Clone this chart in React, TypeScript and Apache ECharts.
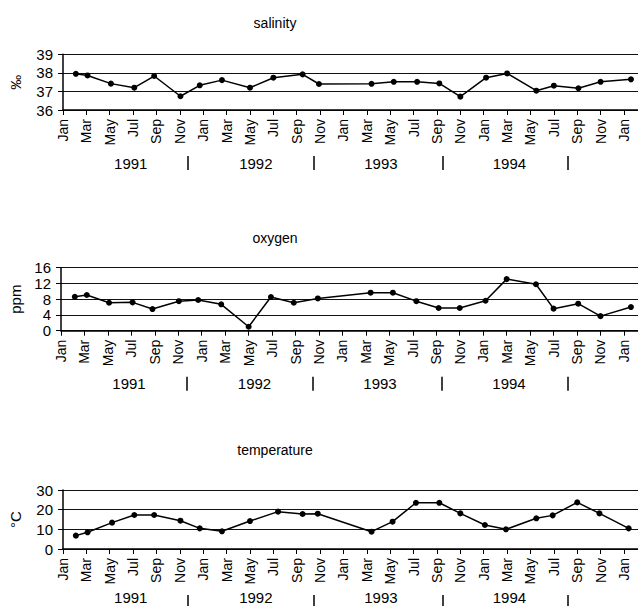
import React, { useEffect, useRef } from "react";
import * as echarts from "echarts";

// month offset from Jan 1991 (0 = Jan 1991, 48 = Jan 1995)
const monthNames = ["Jan", "Feb", "Mar", "Apr", "May", "Jun", "Jul", "Aug", "Sep", "Oct", "Nov", "Dec"];
const monthTicks = [0, 2, 4, 6, 8, 10, 12, 14, 16, 18, 20, 22, 24, 26, 28, 30, 32, 34, 36, 38, 40, 42, 44, 46, 48];
const yearLabels = ["1991", "1992", "1993", "1994"];
const yearLabelPos = [5.8, 16.5, 27.2, 38.2];
const yearSepPos = [10.7, 21.45, 32.5, 43.2];

const salinityMonths = [1.1, 2.1, 4.1, 6.1, 7.8, 10.05, 11.7, 13.6, 16.0, 18.0, 20.5, 21.9, 26.4, 28.3, 30.3, 32.2, 34.0, 36.2, 38.0, 40.5, 42.0, 44.1, 46.0, 48.6];
const salinity = [37.95, 37.86, 37.42, 37.2, 37.83, 36.74, 37.33, 37.61, 37.2, 37.74, 37.92, 37.4, 37.41, 37.52, 37.52, 37.43, 36.72, 37.74, 37.97, 37.04, 37.31, 37.17, 37.52, 37.65];

const oxygenMonths = [1.18, 2.2, 4.1, 6.1, 7.8, 10.05, 11.7, 13.66, 16.0, 17.9, 19.85, 21.9, 26.4, 28.3, 30.3, 32.2, 34.0, 36.2, 38.0, 40.5, 42.0, 44.1, 46.0, 48.6];
const oxygen = [8.6, 9.06, 7.1, 7.2, 5.5, 7.5, 7.8, 6.7, 1.0, 8.55, 7.1, 8.2, 9.65, 9.65, 7.5, 5.76, 5.76, 7.6, 13.1, 11.8, 5.6, 6.86, 3.7, 6.0];

const temperatureMonths = [1.1, 2.1, 4.2, 6.1, 7.8, 10.05, 11.7, 13.6, 16.0, 18.4, 20.5, 21.8, 26.4, 28.2, 30.2, 32.2, 34.0, 36.1, 37.9, 40.5, 41.9, 44.0, 45.9, 48.4];
const temperature = [6.8, 8.5, 13.4, 17.3, 17.3, 14.4, 10.5, 9.0, 14.2, 19.0, 17.8, 17.96, 8.8, 13.9, 23.5, 23.5, 18.1, 12.2, 10.0, 15.6, 17.1, 23.7, 18.1, 10.5];

const panelTitles = ["salinity", "oxygen", "temperature"];
const panelUnits = ["‰", "ppm", "°C"];

const FONT = "'Liberation Sans', Arial, sans-serif";

export default function App() {
  const ref = useRef<HTMLDivElement>(null);

  useEffect(() => {
    if (!ref.current) return;
    const chart = echarts.init(ref.current, undefined, { renderer: "svg" });

    const X_MIN = 0;
    const X_MAX = 49.2;
    const gridLeft = 61;
    const gridWidth = 11.84 * X_MAX;

    const grids = [
      { left: gridLeft, top: 54.3, width: gridWidth, height: 55.7 },
      { left: gridLeft, top: 267.7, width: gridWidth, height: 63 },
      { left: gridLeft, top: 490, width: gridWidth, height: 59 },
    ];
    const yCfg = [
      { min: 36, max: 39, interval: 1, nameGap: 40 },
      { min: 0, max: 16, interval: 4, nameGap: 34 },
      { min: 0, max: 30, interval: 10, nameGap: 40 },
    ];
    const titleTops = [11, 226, 438];
    const yearOffset = 46;

    const monthAxes = grids.map((_, i) => ({
      type: "value",
      gridIndex: i,
      min: X_MIN,
      max: X_MAX,
      position: "bottom",
      axisLine: { show: true, lineStyle: { color: "#000", width: 1.5 } },
      axisTick: { show: true, customValues: monthTicks, length: 5, lineStyle: { color: "#000", width: 1 } },
      axisLabel: {
        customValues: monthTicks,
        rotate: 90,
        margin: 9,
        color: "#000",
        fontSize: 14,
        fontFamily: FONT,
        formatter: (v: number) => monthNames[Math.round(v) % 12],
      },
      splitLine: { show: false },
    }));

    const yearAxes = grids.map((_, i) => ({
      type: "value",
      gridIndex: i,
      min: X_MIN,
      max: X_MAX,
      position: "bottom",
      offset: yearOffset,
      axisLine: { show: false },
      axisTick: { show: true, customValues: yearSepPos, length: 14, lineStyle: { color: "#000", width: 1.5 } },
      axisLabel: { show: false },
      splitLine: { show: false },
    }));

    const yAxes = grids.map((_, i) => ({
      type: "value",
      gridIndex: i,
      min: yCfg[i].min,
      max: yCfg[i].max,
      interval: yCfg[i].interval,
      name: panelUnits[i],
      nameLocation: "middle",
      nameGap: yCfg[i].nameGap,
      nameTextStyle: { color: "#000", fontSize: 15, fontFamily: FONT },
      axisLine: { show: true, lineStyle: { color: "#000", width: 1.5 } },
      axisTick: { show: true, length: 5, lineStyle: { color: "#000" } },
      axisLabel: { color: "#000", fontSize: 15, fontFamily: FONT, margin: 10 },
      splitLine: { show: true, lineStyle: { color: "#111", width: 1 } },
    }));

    const seriesData = [
      salinityMonths.map((m, k) => [m, salinity[k]]),
      oxygenMonths.map((m, k) => [m, oxygen[k]]),
      temperatureMonths.map((m, k) => [m, temperature[k]]),
    ];

    chart.setOption({
      animation: false,
      backgroundColor: "#fff",
      title: panelTitles.map((t, i) => ({
        text: t,
        left: 270,
        top: titleTops[i],
        textAlign: "center",
        textStyle: { color: "#000", fontSize: 14, fontWeight: "normal", fontFamily: FONT },
      })),
      grid: grids,
      xAxis: [...monthAxes, ...yearAxes],
      yAxis: yAxes,
      series: seriesData.map((d, i) => ({
        type: "line",
        xAxisIndex: i,
        yAxisIndex: i,
        data: d,
        symbol: "circle",
        symbolSize: 6,
        showSymbol: true,
        itemStyle: { color: "#000" },
        lineStyle: { color: "#000", width: 1.5 },
      })),
    });

    // year labels placed through the axes' own scales
    const yearTexts: any[] = [];
    grids.forEach((g, i) => {
      const axisY = g.top + g.height + yearOffset;
      const cy = Math.min(axisY + 7, 597);
      yearLabels.forEach((label, k) => {
        const px = chart.convertToPixel({ xAxisIndex: 3 + i }, yearLabelPos[k]) as number;
        yearTexts.push({
          type: "text",
          x: px,
          y: cy,
          style: {
            text: label,
            fill: "#000",
            font: `15px ${FONT}`,
            textAlign: "center",
            textVerticalAlign: "middle",
          },
        });
      });
    });
    chart.setOption({ graphic: yearTexts });

    return () => chart.dispose();
  }, []);

  return (
    <div
      ref={ref}
      style={{ position: "fixed", left: 0, top: 0, width: 638, height: 606, background: "#fff" }}
    />
  );
}
